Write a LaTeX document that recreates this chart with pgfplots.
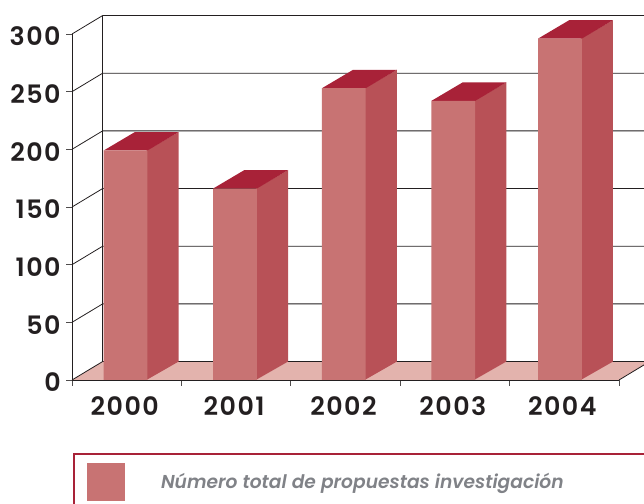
\documentclass[border=0pt]{standalone}
\usepackage{pgfplots}
\pgfplotsset{compat=1.18}
\usepackage{fontspec}
\setmainfont{Poppins}
\newfontfamily\tickfont[LetterSpace=6]{Poppins SemiBold}
\newfontfamily\legfont[ItalicFont={Poppins SemiBold Italic}]{Poppins SemiBold}
\definecolor{barfront}{HTML}{C87373}
\definecolor{barside}{HTML}{B85157}
\definecolor{bartop}{HTML}{A82238}
\definecolor{floorc}{HTML}{E3B3AD}
\definecolor{ink}{HTML}{231F20}
\definecolor{legtext}{HTML}{808287}
\begin{document}
\begin{tikzpicture}[x=1pt,y=1pt]
\path[use as bounding box] (0,0) rectangle (483,378);
\clip (0,0) rectangle (483,378);
\begin{axis}[
  at={(54pt,93pt)},anchor=origin,
  scale only axis,width=410.25pt,height=259.5pt,
  xmin=0,xmax=5,ymin=0,ymax=300,
  clip=false,axis on top=true,
  axis lines*=left,
  axis line style={-,ink,line width=0.6pt},
  tick style={ink!80,line width=0.6pt},
  xtick={0,1,2,3,4,5},
  ytick={0,50,100,150,200,250,300},
  x tick label as interval,
  xticklabels={2000,2001,2002,2003,2004},
  major tick length=4.5pt,
  tick align=outside,
  xtick pos=bottom,ytick pos=left,
  /pgf/number format/assume math mode=true,
  tick label style={font=\tickfont\fontsize{19}{21}\selectfont,text=ink},
  yticklabel style={xshift=-0.5pt,yshift=-1.8pt},
  xticklabel style={yshift=-4.5pt,xshift=-1.5pt},
  legend style={at={(axis cs:0.01,-63)},anchor=north west,draw=bartop,line width=1.5pt,
    fill=white,inner xsep=9.7pt,inner ysep=6.7pt,font=\legfont\fontsize{14}{18}\itshape\selectfont},
  legend image code/.code={\fill[barfront] (0pt,-14.25pt) rectangle (28.5pt,14.25pt);},
]
% floor
\addplot[fill=floorc,draw=none,forget plot] coordinates {(0,0)(5,0)(5.28,16)(0.28,16)} --cycle;
% back wall and gridlines
\addplot[ink,line width=0.6pt,forget plot] coordinates {(0.28,16)(0.28,316)};
\addplot[ink,line width=0.6pt,forget plot] coordinates {(0,0)(0.28,16)(5.4,16)};
\addplot[ink,line width=0.6pt,forget plot] coordinates {(5,0)(5.28,16)};
\addplot[ink,line width=0.6pt,forget plot] coordinates {(0,50)(0.28,66)(5.4,66)};
\addplot[ink,line width=0.6pt,forget plot] coordinates {(0,100)(0.28,116)(5.4,116)};
\addplot[ink,line width=0.6pt,forget plot] coordinates {(0,150)(0.28,166)(5.4,166)};
\addplot[ink,line width=0.6pt,forget plot] coordinates {(0,200)(0.28,216)(5.4,216)};
\addplot[ink,line width=0.6pt,forget plot] coordinates {(0,250)(0.28,266)(5.4,266)};
\addplot[ink,line width=0.6pt,forget plot] coordinates {(0,300)(0.28,316)(5.4,316)};
% sides
\addplot[fill=barside,draw=none,forget plot] coordinates {(0.68,0)(0.975,16)(0.975,215)(0.68,199)} --cycle;
\addplot[fill=barside,draw=none,forget plot] coordinates {(1.68,0)(1.975,16)(1.975,182)(1.68,166)} --cycle;
\addplot[fill=barside,draw=none,forget plot] coordinates {(2.675,0)(2.97,16)(2.97,269)(2.675,253)} --cycle;
\addplot[fill=barside,draw=none,forget plot] coordinates {(3.675,0)(3.97,16)(3.97,258)(3.675,242)} --cycle;
\addplot[fill=barside,draw=none,forget plot] coordinates {(4.65,0)(4.945,16)(4.945,312)(4.65,296)} --cycle;
% tops
\addplot[fill=bartop,draw=none,forget plot] coordinates {(0.29,199)(0.69,199)(0.975,215)(0.575,215)} --cycle;
\addplot[fill=bartop,draw=none,forget plot] coordinates {(1.29,166)(1.69,166)(1.975,182)(1.575,182)} --cycle;
\addplot[fill=bartop,draw=none,forget plot] coordinates {(2.285,253)(2.685,253)(2.97,269)(2.57,269)} --cycle;
\addplot[fill=bartop,draw=none,forget plot] coordinates {(3.285,242)(3.685,242)(3.97,258)(3.57,258)} --cycle;
\addplot[fill=bartop,draw=none,forget plot] coordinates {(4.26,296)(4.66,296)(4.945,312)(4.545,312)} --cycle;
% fronts
\addplot[ybar,bar width=32.8pt,fill=barfront,draw=none] coordinates {(0.49,199)(1.49,166)(2.485,253)(3.485,242)(4.46,296)};
\addlegendentry{\hspace{25pt}\makebox[380pt][l]{\textcolor{legtext}{Número total de propuestas investigación}}}
\end{axis}
\end{tikzpicture}
\end{document}
